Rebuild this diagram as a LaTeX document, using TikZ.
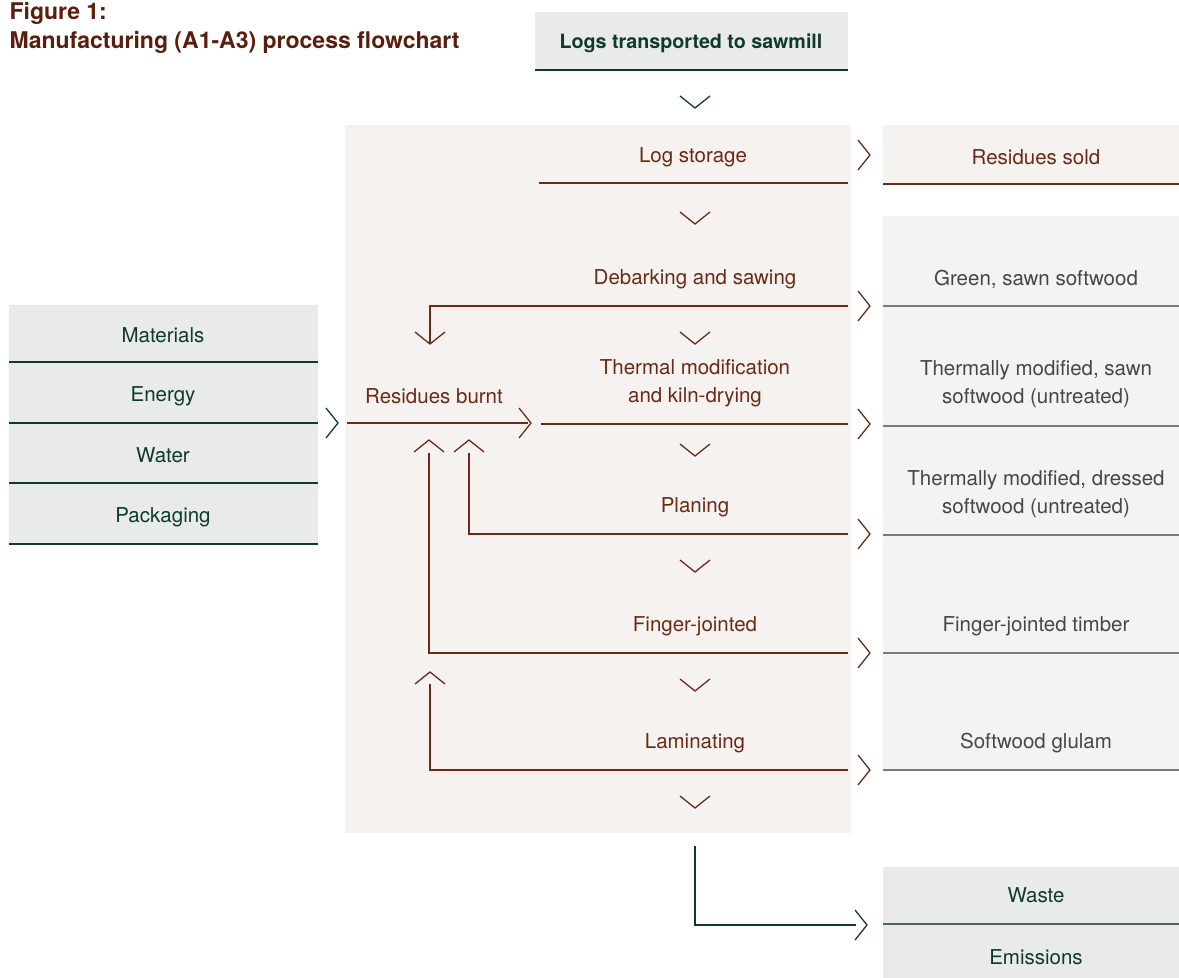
\documentclass[tikz,border=0pt]{standalone}
\usepackage{fontspec}
\setmainfont{TeX Gyre Heros}
\definecolor{brn}{HTML}{6A2A17}
\definecolor{ttl}{HTML}{5A1E0C}
\definecolor{grn}{HTML}{0E3B2C}
\definecolor{pnl}{HTML}{F6F2EF}
\definecolor{gbox}{HTML}{E9EBEA}
\definecolor{obox}{HTML}{F2F3F2}
\definecolor{otext}{HTML}{464646}
\definecolor{oline}{HTML}{7A7A7A}
\definecolor{wline}{HTML}{4D665C}
\begin{document}
\begin{tikzpicture}[x=1pt,y=-1pt,line width=1.3pt,
  txt/.style={font=\fontsize{20.5}{28}\selectfont, inner sep=0, align=center},
  btxt/.style={txt, text=brn},
  gtxt/.style={txt, text=grn},
  otxt/.style={txt, text=otext},
  ttxt/.style={font=\fontsize{23}{30}\selectfont\bfseries, text=ttl, inner sep=0, anchor=base west},
  bx/.style={inner sep=0, outer sep=0, anchor=north west, draw=none},
  bl/.style={draw=brn},
  gl/.style={draw=grn},
  ol/.style={draw=oline},
  chevd/.pic={\draw (-15,-6) -- (0,6) -- (15,-6);},
  chevu/.pic={\draw (-15,6) -- (0,-6) -- (15,6);},
  chevr/.pic={\draw (-6,-15) -- (6,0) -- (-6,15);}
]
\useasboundingbox (0,0) rectangle (1179,978);

% ---------- title
\node[ttxt] (title1) at (9,19) {Figure 1:};
\node[ttxt] (title2) at (9,48) {Manufacturing (A1-A3) process flowchart};

% ---------- boxes
\node[bx, fill=gbox, minimum width=313, minimum height=58] (logsbox) at (535,12) {};
\node[bx, fill=pnl, minimum width=506, minimum height=708] (panel) at (345,125) {};
\node[bx, fill=pnl, minimum width=296, minimum height=59] (soldbox) at (883,125) {};
\node[bx, fill=obox, minimum width=296, minimum height=90] (o1) at (883,216) {};
\node[bx, fill=obox, minimum width=296, minimum height=120] (o2) at (883,306) {};
\node[bx, fill=obox, minimum width=296, minimum height=109] (o3) at (883,426) {};
\node[bx, fill=obox, minimum width=296, minimum height=118] (o4) at (883,535) {};
\node[bx, fill=obox, minimum width=296, minimum height=117] (o5) at (883,653) {};
\node[bx, fill=gbox, minimum width=309, minimum height=57] (in1) at (9,305) {};
\node[bx, fill=gbox, minimum width=309, minimum height=61] (in2) at (9,362) {};
\node[bx, fill=gbox, minimum width=309, minimum height=60] (in3) at (9,423) {};
\node[bx, fill=gbox, minimum width=309, minimum height=61] (in4) at (9,483) {};
\node[bx, fill=gbox, minimum width=296, minimum height=57] (waste) at (883,867) {};
\node[bx, fill=gbox, minimum width=296, minimum height=54] (emis) at (883,924) {};

% box bottom rules
\draw[gl] (logsbox.south west) -- (logsbox.south east);
\draw[bl] (soldbox.south west) -- (soldbox.south east);
\foreach \b in {o1,o2,o3,o4,o5} \draw[ol] (\b.south west) -- (\b.south east);
\foreach \b in {in1,in2,in3,in4} \draw[gl] (\b.south west) -- (\b.south east);
\draw[draw=wline] (waste.south west) -- (waste.south east);

% ---------- texts
\node[gtxt, font=\fontsize{19.7}{28}\selectfont\bfseries] (logs) at (691,43) {Logs transported to sawmill};
\node[btxt] (storage) at (693,157) {Log storage};
\node[btxt] (debark) at (695,279) {Debarking and sawing};
\node[btxt] (thermal) at (695,383) {Thermal modification\\and kiln-drying};
\node[btxt] (planing) at (695,507) {Planing};
\node[btxt] (finger) at (695,626) {Finger-jointed};
\node[btxt] (lamin) at (695,743) {Laminating};
\node[btxt] (burnt) at (434,396) {Residues burnt};
\node[btxt] (sold) at (1036,157) {Residues sold};
\node[otxt] (green) at (1036,279) {Green, sawn softwood};
\node[otxt] (tsawn) at (1036,384) {Thermally modified, sawn\\softwood (untreated)};
\node[otxt] (tdress) at (1036,494) {Thermally modified, dressed\\softwood (untreated)};
\node[otxt] (fjt) at (1036,626) {Finger-jointed timber};
\node[otxt] (glulam) at (1036,743) {Softwood glulam};
\node[gtxt] (mat) at (163,335) {Materials};
\node[gtxt] (ene) at (163,396) {Energy};
\node[gtxt] (wat) at (163,455) {Water};
\node[gtxt] (pack) at (163,517) {Packaging};
\node[gtxt] (wastet) at (1036,895) {Waste};
\node[gtxt] (emist) at (1036,957) {Emissions};

% ---------- connector coordinates
\coordinate (s1l) at (539,183);  \coordinate (s1r) at (848,183);
\coordinate (s2l) at (430,306);  \coordinate (s2r) at (848,306);
\coordinate (s2d) at (430,343);
\coordinate (s3l) at (541,424);  \coordinate (s3r) at (848,424);
\coordinate (rbl) at (347,423);  \coordinate (rbr) at (528,423);
\coordinate (s4t) at (469,453);  \coordinate (s4l) at (469,534);  \coordinate (s4r) at (848,534);
\coordinate (s5t) at (429,453);  \coordinate (s5l) at (429,653);  \coordinate (s5r) at (848,653);
\coordinate (s6t) at (430,684);  \coordinate (s6l) at (430,770);  \coordinate (s6r) at (848,770);
\coordinate (wt) at (695,846);   \coordinate (wc) at (695,925);  \coordinate (wr) at (856,925);

% lines
\draw[bl] (s1l) -- (s1r);
\draw[bl] (s2r) -- (s2l) -- (s2d);
\draw[bl] (s3l) -- (s3r);
\draw[bl] (rbl) -- (rbr);
\draw[bl] (s4t) -- (s4l) -- (s4r);
\draw[bl] (s5t) -- (s5l) -- (s5r);
\draw[bl] (s6t) -- (s6l) -- (s6r);
\draw[gl] (wt) -- (wc) -- (wr);

% chevrons
\pic[color=grn] at (695,102) {chevd};
\foreach \y in {218,338,450,566,685,802} \pic[color=brn] at (695,\y) {chevd};
\foreach \y in {155,306,424,534,653,770} \pic[color=brn] at (864,\y) {chevr};
\pic[color=grn] at (332,423) {chevr};
\pic[color=brn] at (525,423) {chevr};
\pic[color=brn] at (430,338) {chevd};
\pic[color=brn] at (429,446) {chevu};
\pic[color=brn] at (469,446) {chevu};
\pic[color=brn] at (430,678) {chevu};
\pic[color=grn] at (861,925) {chevr};
\end{tikzpicture}
\end{document}
